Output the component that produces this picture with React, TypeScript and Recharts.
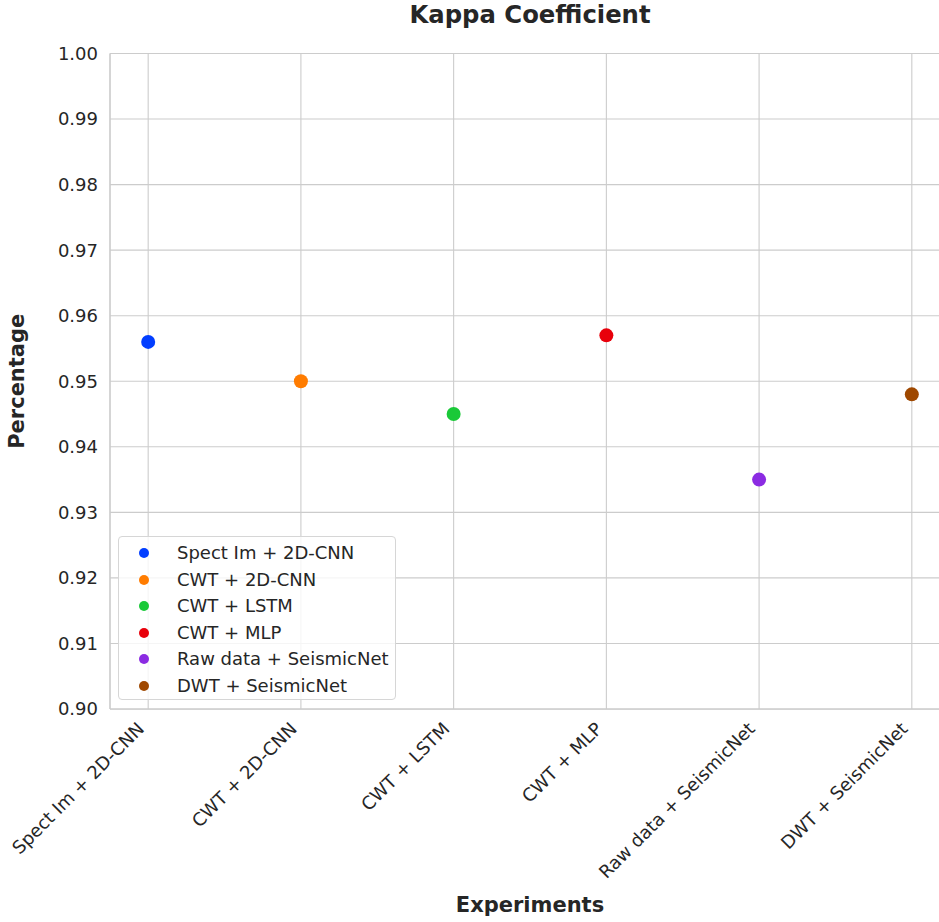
import React from 'react';
import { ScatterChart, Scatter, XAxis, YAxis, CartesianGrid } from 'recharts';

const experiments: string[] = [
  'Spect Im + 2D-CNN',
  'CWT + 2D-CNN',
  'CWT + LSTM',
  'CWT + MLP',
  'Raw data + SeismicNet',
  'DWT + SeismicNet',
];
const kappaValues: number[] = [0.956, 0.95, 0.945, 0.957, 0.935, 0.948];
const seriesColors: string[] = ['#023eff', '#ff7c00', '#1ac938', '#e8000b', '#8b2be2', '#9f4800'];
const yTicks: number[] = [0.9, 0.91, 0.92, 0.93, 0.94, 0.95, 0.96, 0.97, 0.98, 0.99, 1.0];
const xTicks: number[] = [0, 1, 2, 3, 4, 5];

const FONT = '"DejaVu Sans", "Liberation Sans", sans-serif';
const TEXT = '#262626';
const GRID = '#cccccc';

const XTick = (props: any) => {
  const { x, y, payload } = props;
  const ax = x - 3;
  const ay = y + 21;
  return (
    <text
      x={ax}
      y={ay}
      textAnchor="end"
      transform={`rotate(-45, ${ax}, ${ay})`}
      fontSize={18}
      fontFamily={FONT}
      fill={TEXT}
    >
      {experiments[payload.value]}
    </text>
  );
};

const YLabel = (props: any) => {
  const vb = props.viewBox || {};
  const cy = (vb.y ?? 53.5) + (vb.height ?? 655.5) / 2;
  return (
    <text
      x={17}
      y={cy}
      transform={`rotate(-90, 17, ${cy})`}
      textAnchor="middle"
      dominantBaseline="central"
      fontSize={21}
      fontWeight="bold"
      fontFamily={FONT}
      fill={TEXT}
    >
      Percentage
    </text>
  );
};

const XLabel = (props: any) => {
  const vb = props.viewBox || {};
  const cx = (vb.x ?? 110) + (vb.width ?? 840) / 2;
  return (
    <text
      x={cx}
      y={912}
      textAnchor="middle"
      fontSize={21}
      fontWeight="bold"
      fontFamily={FONT}
      fill={TEXT}
    >
      Experiments
    </text>
  );
};

export default function App() {
  return (
    <div
      style={{
        position: 'absolute',
        left: 0,
        top: 0,
        width: 939,
        height: 922,
        overflow: 'hidden',
        fontFamily: FONT,
        background: '#ffffff',
      }}
    >
      <style>{`html, body { margin: 0; padding: 0; overflow: hidden; }`}</style>
      <div
        style={{
          position: 'absolute',
          left: 0,
          top: 0,
          width: 1060,
          textAlign: 'center',
          fontSize: 24.3,
          fontWeight: 'bold',
          color: TEXT,
          lineHeight: '30px',
          fontFamily: FONT,
        }}
      >
        Kappa Coefficient
      </div>
      <div style={{ position: 'absolute', left: 0, top: 0 }}>
        <ScatterChart
          width={950}
          height={922}
          margin={{ top: 53.5, right: 0, left: 0, bottom: 13 }}
        >
          <CartesianGrid stroke={GRID} strokeWidth={1.1} />
          <XAxis
            type="number"
            dataKey="x"
            domain={[-0.25, 5.25]}
            ticks={xTicks}
            interval={0}
            height={200}
            tickLine={false}
            tickSize={0}
            tickMargin={0}
            axisLine={{ stroke: GRID, strokeWidth: 1.25 }}
            tick={<XTick />}
            label={<XLabel />}
          />
          <YAxis
            type="number"
            dataKey="y"
            domain={[0.9, 1.0]}
            ticks={yTicks}
            interval={0}
            width={110}
            tickLine={false}
            tickSize={0}
            tickMargin={12}
            axisLine={{ stroke: GRID, strokeWidth: 1.25 }}
            tick={{ fontSize: 18, fill: TEXT, fontFamily: FONT }}
            tickFormatter={(v: number) => v.toFixed(2)}
            label={<YLabel />}
          />
          {experiments.map((name, i) => (
            <Scatter
              key={name}
              name={name}
              data={[{ x: i, y: kappaValues[i] }]}
              fill={seriesColors[i]}
              isAnimationActive={false}
              shape={(p: any) => <circle cx={p.cx} cy={p.cy} r={7} fill={seriesColors[i]} />}
            />
          ))}
        </ScatterChart>
      </div>
      <div
        style={{
          position: 'absolute',
          left: 118,
          top: 536,
          width: 276,
          height: 162,
          border: '1px solid #d6d6d6',
          borderRadius: 4,
          background: 'rgba(255,255,255,0.8)',
          fontFamily: FONT,
          fontSize: 18,
          color: TEXT,
        }}
      >
        {experiments.map((name, i) => (
          <div
            key={name}
            style={{
              position: 'absolute',
              left: 0,
              top: 16.3 + i * 26.5 - 13,
              height: 26,
              lineHeight: '26px',
              whiteSpace: 'nowrap',
            }}
          >
            <span
              style={{
                position: 'absolute',
                left: 20,
                top: 8,
                width: 10,
                height: 10,
                borderRadius: 5,
                background: seriesColors[i],
              }}
            />
            <span style={{ position: 'absolute', left: 58, top: 0 }}>{name}</span>
          </div>
        ))}
      </div>
    </div>
  );
}
